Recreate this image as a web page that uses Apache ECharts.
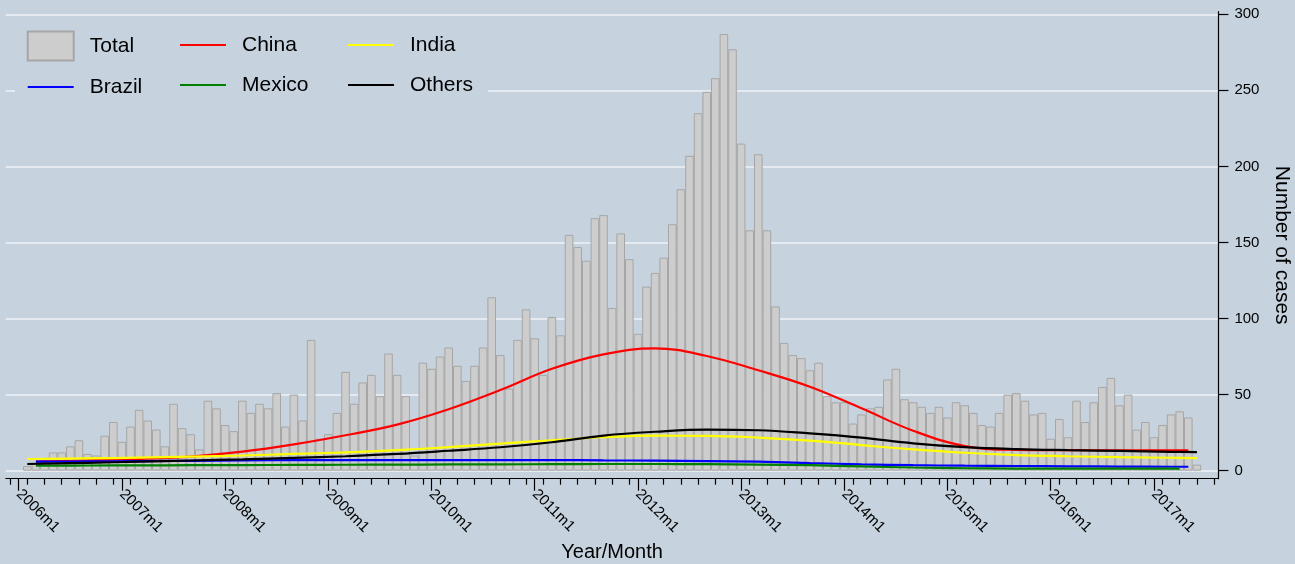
<!DOCTYPE html>
<html>
<head>
<meta charset="utf-8">
<script src="https://cdn.jsdelivr.net/npm/echarts@6/dist/echarts.min.js"></script>
<style>
  html, body { margin: 0; padding: 0; background: #c6d3df; }
  #chart { width: 1295px; height: 564px; }
</style>
</head>
<body>
<div id="chart"></div>
<script>
// ---- DATA ----
// monthly total cases, 2006m1 .. 2017m6
const totalStart = '2006m1';
const totalCases = [
  null, 3, 5, 7, 12, 12, 16, 20, 11, 10, 23, 32,            // 2006
  19, 29, 40, 33, 27, 16, 44, 28, 24, 14, 46, 41,           // 2007
  30, 26, 46, 38, 44, 41, 51, 29, 50, 33, 86, 21,           // 2008
  24, 38, 65, 44, 58, 63, 49, 77, 63, 49, 10, 71,           // 2009
  67, 75, 81, 69, 59, 69, 81, 114, 76, 54, 86, 106,         // 2010
  87, 63, 101, 89, 155, 147, 138, 166, 168, 107, 156, 139,  // 2011
  90, 121, 130, 140, 162, 185, 207, 235, 249, 258, 287, 277,// 2012
  215, 158, 208, 158, 108, 84, 76, 74, 66, 71, 49, 45,      // 2013
  45, 31, 37, 41, 42, 60, 67, 47, 45, 42, 38, 42,           // 2014
  35, 45, 43, 38, 30, 29, 38, 50, 51, 46, 37, 38,           // 2015
  21, 34, 22, 46, 32, 45, 55, 61, 43, 50, 27, 32,           // 2016
  22, 30, 37, 39, 35, 4                                     // 2017
];

// smoothed country curves, read at knot months
const knotMonths = ['2006m2','2006m3','2006m9','2007m3','2007m9','2008m3','2008m9','2009m3','2009m9',
  '2010m3','2010m9','2011m3','2011m9','2012m3','2012m9','2013m3','2013m9','2014m3','2014m9',
  '2015m3','2015m9','2016m3','2016m9','2017m3','2017m4','2017m5','2017m6'];
const china  = [null, 6.0, 6.8, 7.8, 9.3, 12.5, 17.3, 23.3, 30.3, 40.4, 53.0, 67.0, 76.5, 80.4, 75.4, 66.0, 55.2, 41.0, 26.3, 16.2, 13.7, 13.5, 13.4, 13.3, 13.3, 13.3, null];
const india  = [7.7, null, 8.1, 8.6, 9.3, 10.0, 11.0, 12.0, 13.5, 15.5, 17.8, 20.0, 22.0, 23.0, 22.9, 21.8, 19.8, 16.8, 14.0, 11.8, 10.3, 9.5, 8.9, 8.5, null, null, 8.3];
const brazil = [null, 5.9, 6.1, 6.3, 6.5, 6.8, 6.9, 7.0, 7.0, 7.0, 7.0, 7.0, 6.8, 6.6, 6.3, 5.9, 5.0, 4.2, 3.6, 3.3, 3.1, 2.9, 2.7, 2.6, null, 2.6, null];
const mexico = [null, 3.3, 3.4, 3.5, 3.6, 3.7, 3.8, 3.9, 4.0, 4.1, 4.2, 4.3, 4.4, 4.4, 4.3, 4.0, 3.6, 2.8, 2.1, 1.6, 1.4, 1.3, 1.3, 1.3, 1.3, null, null];
const others = [4.4, null, 5.2, 5.9, 6.7, 7.5, 8.4, 9.5, 11.0, 13.1, 15.4, 18.7, 23.1, 25.6, 27.0, 26.6, 24.5, 21.7, 18.0, 15.5, 14.2, 13.5, 13.0, 12.4, null, null, 12.2];

const yTicks = [0, 50, 100, 150, 200, 250, 300];

// axis months: 2005m12 .. 2017m8
const axisMonths = [];
(function () {
  let y = 2005, m = 12;
  for (let i = 0; i < 141; i++) {
    axisMonths.push(y + 'm' + m);
    m++; if (m > 12) { m = 1; y++; }
  }
})();

// ---- CHART ----
const FONT = '"Liberation Sans", Arial, Helvetica, sans-serif';
const BG = '#c6d3df';
const GRID_LINE = '#eef2f6';
const LINE_ICON = 'path://M0,0H46V2.2H0Z';

const startIdx = axisMonths.indexOf(totalStart);
const barData = axisMonths.map((m, i) => {
  const k = i - startIdx;
  return (k >= 0 && k < totalCases.length) ? totalCases[k] : null;
});
const knotSeries = vals => knotMonths.map((m, i) => [m, vals[i]]).filter(d => d[1] !== null);

const lineSeries = (name, vals, color) => ({
  name, type: 'line', data: knotSeries(vals), smooth: 0.4,
  symbol: 'none', showSymbol: false,
  lineStyle: { color, width: 2.2 }, itemStyle: { color },
  z: 3, animation: false
});

const chart = echarts.init(document.getElementById('chart'), null, { renderer: 'canvas' });

const legendBase = {
  orient: 'vertical', itemWidth: 46, itemHeight: 29,
  padding: 0, selectedMode: false, symbolKeepAspect: true,
  textStyle: { fontFamily: FONT, fontSize: 21, color: '#000', padding: [0, 0, 0, 11] }
};
const li = name => ({ name, icon: LINE_ICON });

chart.setOption({
  backgroundColor: BG,
  animation: false,
  textStyle: { fontFamily: FONT },
  graphic: [{
    type: 'rect', z: 1, silent: true,
    shape: { x: 15, y: 20, width: 473, height: 88 },
    style: { fill: BG }
  }],
  legend: [
    Object.assign({}, legendBase, { left: 26.7, top: 30.5, itemGap: 15,
      data: [{ name: 'Total', icon: 'rect' }, li('Brazil')] }),
    Object.assign({}, legendBase, { left: 180, top: 34.5, itemGap: 19, data: [li('China'), li('Mexico')] }),
    Object.assign({}, legendBase, { left: 348, top: 34.5, itemGap: 19, data: [li('India'), li('Others')] })
  ],
  grid: { left: 5.8, right: 76.6, top: 11.7, bottom: 85.3, containLabel: false, outerBoundsMode: 'none' },
  xAxis: [{
    type: 'category', data: axisMonths, position: 'bottom', boundaryGap: true,
    name: 'Year/Month', nameLocation: 'middle', nameGap: 57,
    nameTextStyle: { fontFamily: FONT, fontSize: 20, color: '#000' },
    axisLine: { show: true, onZero: false, lineStyle: { color: '#000', width: 1.2 } },
    axisTick: { show: true, alignWithLabel: true, length: 12, interval: (i) => i % 12 === 1,
                lineStyle: { color: '#000', width: 1.2 } },
    axisLabel: { show: true, interval: (i) => i % 12 === 1, rotate: -45, margin: 13,
                 fontFamily: FONT, fontSize: 15, color: '#000' },
    splitLine: { show: false }
  }, {
    type: 'category', data: axisMonths, position: 'bottom', boundaryGap: true,
    axisLine: { show: false, onZero: false },
    axisTick: { show: true, alignWithLabel: true, length: 6, interval: (i) => i % 2 === 0,
                lineStyle: { color: '#000', width: 1.2 } },
    axisLabel: { show: false },
    splitLine: { show: false }
  }],
  yAxis: {
    type: 'value', position: 'right', min: -5.26, max: 301.7,
    name: 'Number of cases', nameLocation: 'middle', nameRotate: -90, nameGap: 53,
    nameTextStyle: { fontFamily: FONT, fontSize: 21, color: '#000' },
    axisLine: { show: true, onZero: false, lineStyle: { color: '#000', width: 1.2 } },
    axisTick: { show: true, inside: false, length: 10, customValues: yTicks,
                lineStyle: { color: '#000', width: 1.2 } },
    axisLabel: { show: true, margin: 16, customValues: yTicks,
                 fontFamily: FONT, fontSize: 15, color: '#000' },
    splitLine: { show: true, lineStyle: { color: GRID_LINE, width: 1.5 } }
  },
  series: [
    {
      name: 'Total', type: 'bar', data: barData, barWidth: '100%', barCategoryGap: '0%',
      itemStyle: { color: '#cdcdcd', borderColor: '#a6a6a6', borderWidth: 1 },
      z: 2, animation: false
    },
    lineSeries('China', china, '#ff0000'),
    lineSeries('India', india, '#ffff00'),
    lineSeries('Brazil', brazil, '#0000ff'),
    lineSeries('Mexico', mexico, '#008000'),
    lineSeries('Others', others, '#000000')
  ]
});
</script>
</body>
</html>
